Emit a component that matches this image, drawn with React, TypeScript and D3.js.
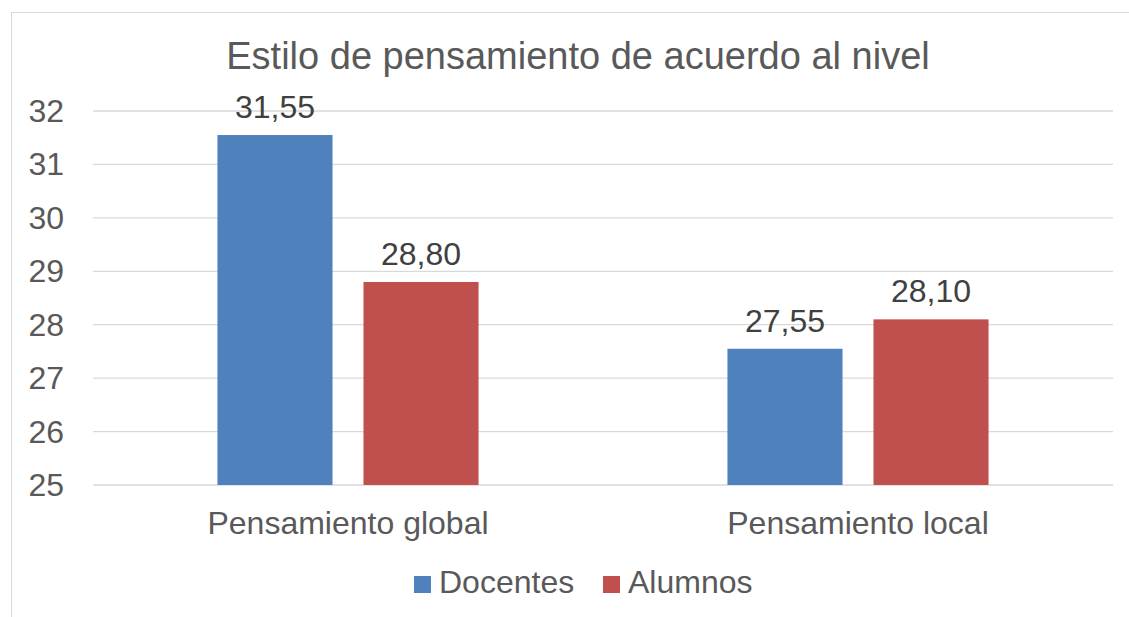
import React from "react";
import * as d3 from "d3";

const categories = ["Pensamiento global", "Pensamiento local"];
const seriesNames = ["Docentes", "Alumnos"];
const docentes = [31.55, 27.55];
const alumnos = [28.8, 28.1];
const yTicks = [25, 26, 27, 28, 29, 30, 31, 32];
const colors = ["#4F81BD", "#C0504D"];
const title = "Estilo de pensamiento de acuerdo al nivel";

export default function App() {
  const W = 1129, H = 617;
  const left = 93, right = 1113, top = 111, bottom = 485;
  const y = d3.scaleLinear().domain([25, 32]).range([bottom, top]);
  const x0 = d3.scaleBand().domain(categories).range([left, right]).paddingInner(0.488).paddingOuter(0.244);
  const x1 = d3.scaleBand().domain(seriesNames).range([0, x0.bandwidth()]).paddingInner(0.212);
  const series = [docentes, alumnos];
  const fmt = (v: number) => v.toFixed(2).replace(".", ",");
  const font = "Liberation Sans, Arial, sans-serif";
  const textColor = "#595959";
  return (
    <svg width={W} height={H} style={{ position: "absolute", left: 0, top: 0, fontFamily: font }}>
      <rect x={0} y={0} width={W} height={H} fill="#fff" />
      <line x1={11.5} y1={12} x2={11.5} y2={H} stroke="#d9d9d9" strokeWidth={1} />
      <line x1={11} y1={12.5} x2={W} y2={12.5} stroke="#d9d9d9" strokeWidth={1} />
      <text x={578} y={69} textAnchor="middle" fontSize={38} fill={textColor}>{title}</text>
      {yTicks.map((t) => (
        <g key={t}>
          <line x1={left} x2={right} y1={y(t)} y2={y(t)} stroke="#d9d9d9" strokeWidth={1.3} />
          <text x={64} y={y(t) + 11} textAnchor="end" fontSize={32} fill={textColor}>{t}</text>
        </g>
      ))}
      {categories.map((c, i) => (
        <g key={c}>
          {seriesNames.map((s, j) => {
            const v = series[j][i];
            const bx = (x0(c) as number) + (x1(s) as number);
            return (
              <g key={s}>
                <rect x={bx} y={y(v)} width={x1.bandwidth()} height={bottom - y(v)} fill={colors[j]} />
                <text x={bx + x1.bandwidth() / 2} y={y(v) - 17} textAnchor="middle" fontSize={32} fill="#404040">{fmt(v)}</text>
              </g>
            );
          })}
          <text x={(x0(c) as number) + x0.bandwidth() / 2} y={534} textAnchor="middle" fontSize={32} fill={textColor}>{c}</text>
        </g>
      ))}
      {seriesNames.map((s, j) => {
        const lx = j === 0 ? 414 : 603;
        return (
          <g key={s}>
            <rect x={lx} y={576} width={17} height={17} fill={colors[j]} />
            <text x={lx + 25} y={593} fontSize={32} fill={textColor}>{s}</text>
          </g>
        );
      })}
    </svg>
  );
}
